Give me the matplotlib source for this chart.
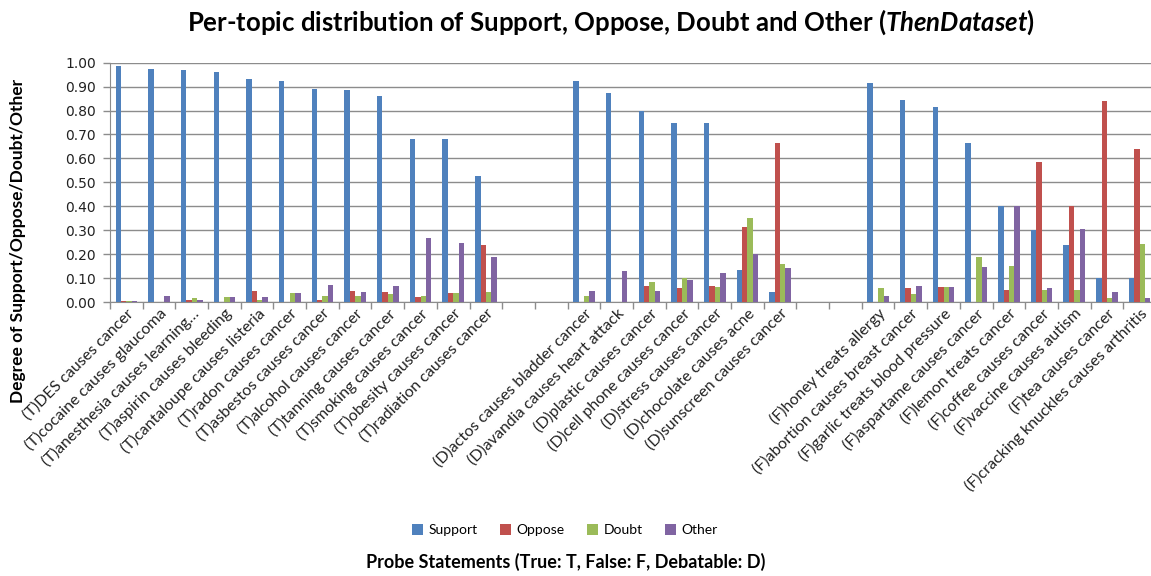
import numpy as np
import matplotlib.pyplot as plt

plt.rcParams["mathtext.fontset"] = "custom"
plt.rcParams["mathtext.bfit"] = "Lato:bold:italic"
plt.rcParams["mathtext.rm"] = "Lato"

# topics, grouped by truth label
true_topics = ["(T)DES causes cancer", "(T)cocaine causes glaucoma",
               "(T)anesthesia causes learning…", "(T)aspirin causes bleeding",
               "(T)cantaloupe causes listeria", "(T)radon causes cancer",
               "(T)asbestos causes cancer", "(T)alcohol causes cancer",
               "(T)tanning causes cancer", "(T)smoking causes cancer",
               "(T)obesity causes cancer", "(T)radiation causes cancer"]
debatable_topics = ["(D)actos causes bladder cancer", "(D)avandia causes heart attack",
                    "(D)plastic causes cancer", "(D)cell phone causes cancer",
                    "(D)stress causes cancer", "(D)chocolate causes acne",
                    "(D)sunscreen causes cancer"]
false_topics = ["(F)honey treats allergy", "(F)abortion causes breast cancer",
                "(F)garlic treats blood pressure", "(F)aspartame causes cancer",
                "(F)lemon treats cancer", "(F)coffee causes cancer",
                "(F)vaccine causes autism", "(F)tea causes cancer",
                "(F)cracking knuckles causes arthritis"]

support = [0.986, 0.975, 0.969, 0.960, 0.930, 0.925, 0.889, 0.885, 0.860, 0.680, 0.680, 0.528,
           0.925, 0.875, 0.800, 0.750, 0.750, 0.134, 0.042,
           0.914, 0.844, 0.814, 0.663, 0.402, 0.302, 0.238, 0.100, 0.100]
oppose = [0.006, 0.0, 0.007, 0.0, 0.047, 0.0, 0.007, 0.047, 0.042, 0.022, 0.036, 0.238,
          0.0, 0.0, 0.067, 0.057, 0.067, 0.313, 0.663,
          0.0, 0.057, 0.061, 0.0, 0.051, 0.583, 0.402, 0.839, 0.638]
doubt = [0.006, 0.0, 0.017, 0.022, 0.007, 0.036, 0.026, 0.026, 0.032, 0.026, 0.036, 0.042,
         0.026, 0.0, 0.082, 0.100, 0.061, 0.353, 0.159,
         0.057, 0.032, 0.061, 0.188, 0.152, 0.051, 0.051, 0.017, 0.242]
other = [0.006, 0.026, 0.007, 0.022, 0.022, 0.036, 0.071, 0.042, 0.067, 0.267, 0.248, 0.188,
         0.047, 0.128, 0.047, 0.093, 0.122, 0.200, 0.142,
         0.026, 0.067, 0.061, 0.147, 0.402, 0.057, 0.307, 0.042, 0.017]

series = ["Support", "Oppose", "Doubt", "Other"]
colors = ["#4F81BD", "#C0504D", "#9BBB59", "#8064A2"]

# two empty category slots between groups
gap = 2
labels = true_topics + [""] * gap + debatable_topics + [""] * gap + false_topics
slots = np.arange(len(labels))
pos = np.array([i for i, l in enumerate(labels) if l != ""])

fig = plt.figure(figsize=(11.51, 5.76), dpi=100)
ax = fig.add_axes([110 / 1151, 274 / 576, 1046 / 1151, 239.3 / 576])

w = 0.165
for k, (name, vals, c) in enumerate(zip(series, [support, oppose, doubt, other], colors)):
    ax.bar(pos + (k - 1.5) * w, vals, width=w, color=c, label=name, zorder=3)

ax.set_xlim(-0.5, len(labels) - 0.5)
ax.set_ylim(0, 1.0)
ax.set_yticks(np.arange(0, 1.01, 0.1))
ax.set_yticklabels(["%.2f" % v for v in np.arange(0, 1.01, 0.1)],
                   fontsize=10, family="DejaVu Sans", color="#222222")
ax.yaxis.grid(True, color="#8c8c8c", linewidth=1, zorder=0)

# category boundaries get the tick marks, centers get the labels
ax.set_xticks(np.arange(-0.5, len(labels), 1.0))
ax.set_xticklabels([])
ax.set_xticks(slots, minor=True)
ax.set_xticklabels(labels, minor=True, rotation=45, ha="right", va="top",
                   rotation_mode="anchor", fontsize=11.5, family="Lato", color="#222222")
ax.tick_params(axis="x", which="major", length=5, color="#8c8c8c", width=1)
ax.tick_params(axis="x", which="minor", length=0, pad=3)
ax.tick_params(axis="y", length=5, color="#8c8c8c", width=1, pad=5)

for s in ["top", "right"]:
    ax.spines[s].set_visible(False)
for s in ["left", "bottom"]:
    ax.spines[s].set_color("#8c8c8c")

fig.text(611 / 1151, 1 - 22 / 576,
         r"Per-topic distribution of Support, Oppose, Doubt and Other ($\mathbfit{ThenDataset}$)",
         ha="center", va="center", fontsize=18.5, fontweight="bold", family="Lato")
fig.text(18 / 1151, 1 - 241 / 576, "Degree of Support/Oppose/Doubt/Other",
         rotation=90, ha="center", va="center", fontsize=12.5, fontweight="bold", family="Lato")
fig.text(566 / 1151, 1 - 562 / 576, "Probe Statements (True: T, False: F, Debatable: D)",
         ha="center", va="center", fontsize=13, fontweight="bold", family="Lato")

fig.legend(loc="center", bbox_to_anchor=(565 / 1151, 1 - 530 / 576), ncol=4,
           frameon=False, handlelength=0.8, handleheight=0.8,
           handletextpad=0.4, columnspacing=1.6, prop={"family": "Lato", "size": 10})

fig.savefig("out.png", dpi=100)
